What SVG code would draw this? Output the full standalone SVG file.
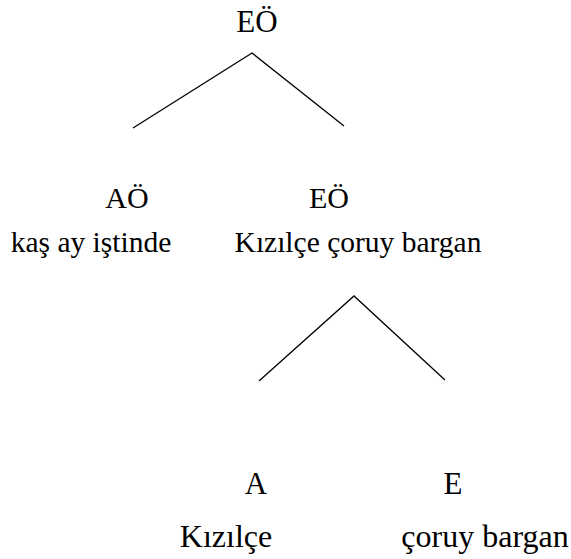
<svg xmlns="http://www.w3.org/2000/svg" width="571" height="559" viewBox="0 0 571 559">
<style>
.edge{stroke:#000;stroke-width:1.3;fill:none}
</style>
<rect width="571" height="559" fill="#fff"/>
<g id="connectors">
<polyline class="edge" points="133,128 252,53 344,126"/>
<polyline class="edge" points="259,381 354,296 445,380"/>
</g>
<g id="root"><text font-family="'Liberation Serif'" font-size="31" text-anchor="middle" x="257" y="32">EÖ</text></g>
<g id="ao"><text font-family="'Liberation Serif'" font-size="30" text-anchor="middle" x="127" y="208">AÖ</text><text font-family="'Liberation Serif'" font-size="29.5" text-anchor="middle" x="91" y="252">kaş ay iştinde</text></g>
<g id="eo"><text font-family="'Liberation Serif'" font-size="30" text-anchor="middle" x="329" y="208">EÖ</text><text font-family="'Liberation Serif'" font-size="29.5" text-anchor="middle" x="358" y="252">Kızılçe çoruy bargan</text></g>
<g id="a"><text font-family="'Liberation Serif'" font-size="31" text-anchor="middle" x="256" y="494">A</text><text font-family="'Liberation Serif'" font-size="32" text-anchor="middle" x="226" y="547">Kızılçe</text></g>
<g id="e"><text font-family="'Liberation Serif'" font-size="31" text-anchor="middle" x="453" y="494">E</text><text font-family="'Liberation Serif'" font-size="32" text-anchor="middle" x="485" y="547">çoruy bargan</text></g>
</svg>
